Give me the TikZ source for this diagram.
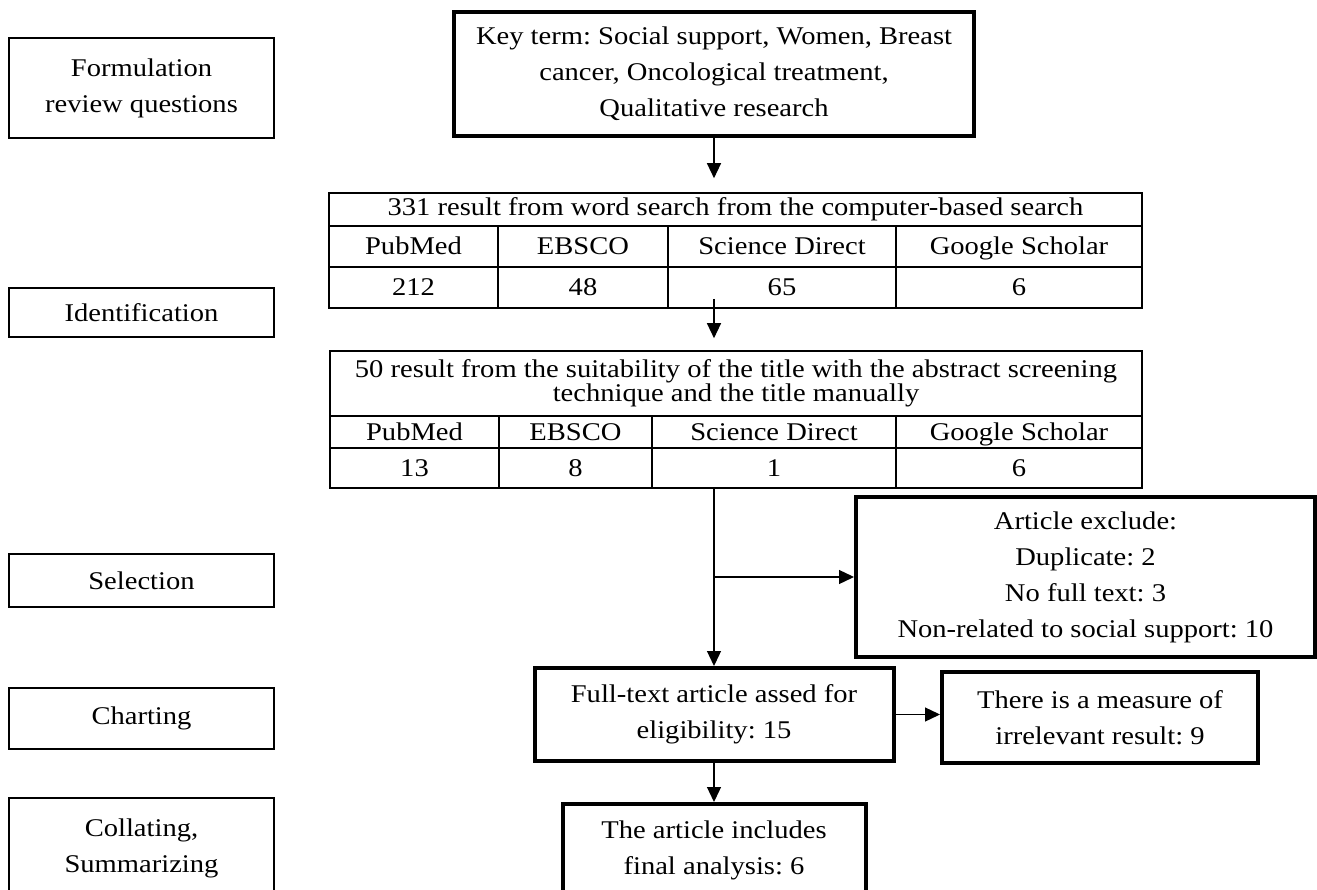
\documentclass[tikz,border=0pt]{standalone}
\usepackage{fontspec}
\setmainfont[FakeStretch=1.12]{Liberation Serif}
\usepackage{tikz}
\usetikzlibrary{arrows.meta}
\frenchspacing
\tikzset{
    stagebox/.style={rectangle, draw=black, line width=1.3pt, minimum width=265pt, align=center, inner sep=0pt},
    thickbox/.style={rectangle, draw=black, line width=4pt, align=center, inner sep=0pt},
    cell/.style    ={rectangle, draw=black, line width=1.6pt, inner sep=0pt, text height=17pt, text depth=0pt},
    headcell/.style={rectangle, draw=black, line width=1.6pt, inner sep=0pt, align=center, font=\fontsize{25.5}{23}\selectfont},
    flowarrow/.style={-{Triangle[length=15pt, width=14pt]}, line width=1.3pt},
}

\begin{document}
\begin{tikzpicture}[x=1pt, y=-1pt, every node/.style={font=\fontsize{25.5}{36}\selectfont}]
        \useasboundingbox (0,0) rectangle (1317,890);
        \clip (0,0) rectangle (1317,890);

        % stages on the left
        \node[stagebox, minimum height=100pt] (form)  at (141.5,88)    {Formulation\\ review questions};
        \node[stagebox, minimum height=49pt]  (ident) at (141.5,312.5) {Identification};
        \node[stagebox, minimum height=53pt]  (sel)   at (141.5,580.5) {Selection};
        \node[stagebox, minimum height=61pt]  (chart) at (141.5,718.5) {Charting};
        \node[stagebox, minimum height=100pt] (coll)  at (141.5,848)   {Collating,\\ Summarizing};

        % key terms
        \node[thickbox, minimum width=520pt, minimum height=124pt] (key) at (714,74)
            {Key term: Social support, Women, Breast\\ cancer, Oncological treatment,\\ Qualitative research};

        % first search table
        \node[headcell, minimum width=813pt, minimum height=33pt] (t1head) at (735.5,209.5)
            {331 result from word search from the computer-based search};
        \node[cell, minimum width=169pt, minimum height=41pt] (t1c1) at (413.5,246.5) {PubMed};
        \node[cell, minimum width=170pt, minimum height=41pt] (t1c2) at (583,246.5)   {EBSCO};
        \node[cell, minimum width=228pt, minimum height=41pt] (t1c3) at (782,246.5)   {Science Direct};
        \node[cell, minimum width=246pt, minimum height=41pt] (t1c4) at (1019,246.5)  {Google Scholar};
        \node[cell, minimum width=169pt, minimum height=41pt] (t1v1) at (413.5,287.5) {212};
        \node[cell, minimum width=170pt, minimum height=41pt] (t1v2) at (583,287.5)   {48};
        \node[cell, minimum width=228pt, minimum height=41pt] (t1v3) at (782,287.5)   {65};
        \node[cell, minimum width=246pt, minimum height=41pt] (t1v4) at (1019,287.5)  {6};

        % second screening table
        \node[headcell, minimum width=812pt, minimum height=65pt] (t2head) at (736,383.5)
            {50 result from the suitability of the title with the abstract screening\\ technique and the title manually};
        \node[cell, minimum width=169pt, minimum height=32pt] (t2c1) at (414.5,432) {PubMed};
        \node[cell, minimum width=153pt, minimum height=32pt] (t2c2) at (575.5,432) {EBSCO};
        \node[cell, minimum width=244pt, minimum height=32pt] (t2c3) at (774,432)   {Science Direct};
        \node[cell, minimum width=246pt, minimum height=32pt] (t2c4) at (1019,432)  {Google Scholar};
        \node[cell, minimum width=169pt, minimum height=40pt] (t2v1) at (414.5,468) {13};
        \node[cell, minimum width=153pt, minimum height=40pt] (t2v2) at (575.5,468) {8};
        \node[cell, minimum width=244pt, minimum height=40pt] (t2v3) at (774,468)   {1};
        \node[cell, minimum width=246pt, minimum height=40pt] (t2v4) at (1019,468)  {6};

        % exclusion and eligibility
        \node[thickbox, minimum width=459pt, minimum height=160pt] (excl) at (1085.5,577)
            {Article exclude:\\ Duplicate: 2\\ No full text: 3\\ Non-related to social support: 10};
        \node[thickbox, minimum width=359pt, minimum height=93pt] (full) at (714,714.5)
            {Full-text article assed for\\ eligibility: 15};
        \node[thickbox, minimum width=316pt, minimum height=91pt] (measure) at (1100,717.5)
            {There is a measure of\\ irrelevant result: 9};
        \node[thickbox, minimum width=303pt, minimum height=93pt] (final) at (714,850.5)
            {The article includes\\ final analysis: 6};

        \draw[flowarrow, shorten >=14pt] (key.south) -- (key.south |- t1head.north);
        \draw[flowarrow, shorten <=-10pt, shorten >=12pt] (key.south |- t1v3.south) -- (key.south |- t2head.north);
        \draw[flowarrow] (full.north |- t2v3.south) -- (full.north);
        \draw[flowarrow] (full.north |- excl.west) -- (excl.west);
        \draw[flowarrow] (full) -- (final);
        \draw[flowarrow] (full.east) -- (full.east -| measure.west);
    \end{tikzpicture}
\end{document}
